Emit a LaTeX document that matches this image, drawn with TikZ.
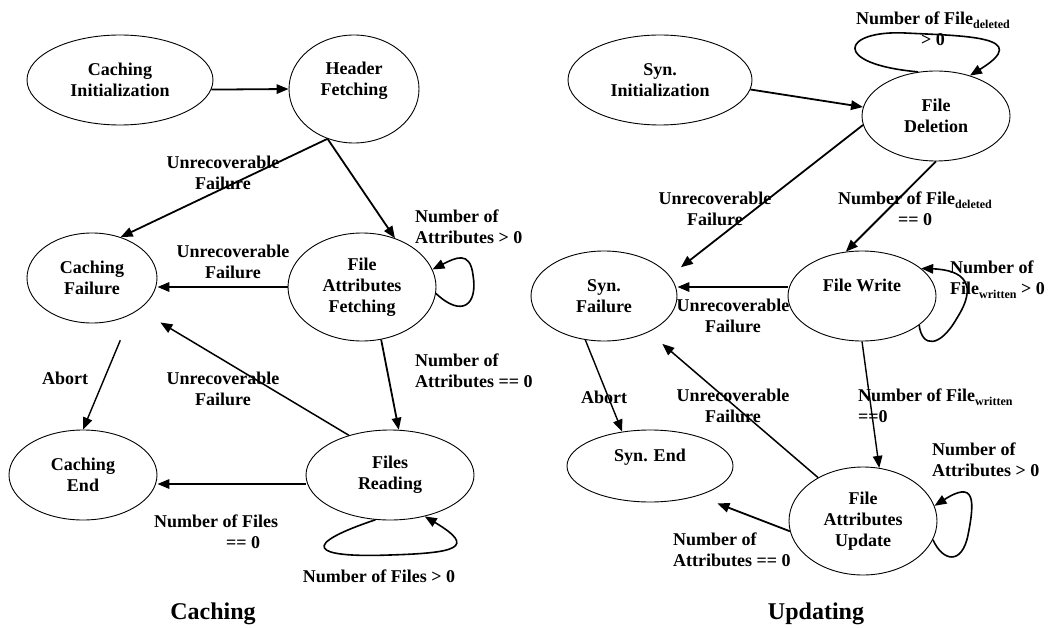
\documentclass[tikz,border=0pt]{standalone}
\usepackage{fontspec}
\setmainfont{Liberation Serif}
\usetikzlibrary{shapes.geometric, arrows.meta, calc}
% lowered small subscript for counters such as File_deleted
\newcommand\lowsub[1]{\raisebox{-4pt}{\fontsize{12}{12}\selectfont #1}}

\begin{document}
\begin{tikzpicture}[x=1pt, y=-1pt,
  stnode/.style={draw, ellipse, line width=0.9pt, inner sep=0pt, align=center,
    font=\fontsize{18}{21}\selectfont\bfseries},
  lbl/.style={inner sep=0pt, align=center, font=\fontsize{18}{21}\selectfont\bfseries},
  lbll/.style={lbl, align=left, anchor=west},
  trans/.style={line width=1.8pt, -{Triangle[length=12pt,width=9.5pt]}},
  loopline/.style={line width=1.6pt, -{Triangle[length=12pt,width=9.5pt]}},
  ttl/.style={inner sep=0pt, font=\fontsize{24}{28}\selectfont\bfseries}]
\useasboundingbox (0,0) rectangle (1048,628);

% ---------------- Caching ----------------
\node[stnode, minimum width=186, minimum height=90] (ci)  at (120,80)  {Caching\\Initialization};
\node[stnode, minimum width=130, minimum height=108] (hdr) at (354,89) {Header\\Fetching\\~};
\node[stnode, minimum width=130, minimum height=90] (cf)  at (92,278)  {Caching\\Failure};
\node[stnode, minimum width=148, minimum height=108] (fa) at (362,287) {File\\Attributes\\Fetching};
\node[stnode, minimum width=148, minimum height=90] (ce)  at (83,475)  {Caching\\End};
\node[stnode, minimum width=168, minimum height=90] (fr)  at (390,475) {Files\\Reading};

\draw[trans] (ci.-6) -- (hdr.west);
\draw[trans] (hdr.242) -- (cf.55);
\draw[trans] (hdr.242) -- (fa.56);
\draw[trans] (fa.west) -- (fa.west -| cf.east);
\draw[trans] (fa.-70) -- (fr.79);
\draw[trans, line width=1.4pt, shorten <=28pt] (cf.-43) -- (ce.north);
\draw[trans, line width=1.5pt, shorten >=25pt] (fr.136) -- (cf.-34.5);
\draw[trans] ($(fr.west)+(0,9)$) -- ($(ce.east)+(0,9)$);
% self loops
\draw[loopline] (fa.-5) .. controls (462,318) and (478,305) .. (473,275)
  .. controls (470,250) and (455,258) .. (fa.14);
\draw[loopline] (fr.-108) .. controls (300,545) and (310,558) .. (390,555)
  .. controls (455,553) and (478,548) .. (fr.-50);

\node[lbl] (l1) at (223,173) {Unrecoverable\\Failure};
\node[lbl] (l2) at (233,262) {Unrecoverable\\Failure};
\node[lbll] (l3) at (415,227) {Number of\\Attributes > 0};
\node[lbll] (l4) at (415,371) {Number of\\Attributes == 0};
\node[lbl] (l5) at (65,378) {Abort};
\node[lbl] (l6) at (223,389) {Unrecoverable\\Failure};
\node[lbll] (l7) at (154,532) {Number of Files\\\hspace*{72pt}== 0};
\node[lbl] (l8) at (379,576) {Number of Files > 0};
\node[ttl] (t1) at (213,614) {Caching};

% ---------------- Updating ----------------
\node[stnode, minimum width=184, minimum height=90] (si)  at (660,80)  {Syn.\\Initialization};
\node[stnode, minimum width=148, minimum height=90] (fd)  at (936,116) {File\\Deletion};
\node[stnode, minimum width=146, minimum height=90] (sf)  at (604,296) {Syn.\\Failure};
\node[stnode, minimum width=148, minimum height=90] (fw)  at (862,296) {File Write\\~};
\node[stnode, minimum width=166, minimum height=72] (se)  at (650,466) {Syn. End\\~};
\node[stnode, minimum width=148, minimum height=108] (fau) at (863,521) {File\\Attributes\\Update};

\draw[trans] (si.-6) -- (fd.173);
\draw[trans, shorten >=14pt] (fd.187) -- (sf.17);
\draw[trans] (fd.south) -- (fw.110);
\draw[trans] ($(fw.west)+(0,-9)$) -- ($(sf.east)+(0,-9)$);
\draw[trans, line width=1.4pt] (fw.south) -- (fau.73);
\draw[trans, line width=1.4pt] (sf.-113) -- (se.129);
\draw[trans, line width=1.5pt, shorten >=18pt] (fau.136) -- (sf.-39);
\draw[trans, shorten >=21pt] (fau.188.6) -- (se.-32);
% self loops
\draw[loopline] (fd.112) .. controls (830,64) and (842,30) .. (905,33)
  .. controls (965,36) and (1034,36) .. (fd.50);
\draw[loopline] (fw.-27) .. controls (922,348) and (940,348) .. (957,318)
  .. controls (978,285) and (965,270) .. (fw.25);
\draw[loopline] (fau.-15) .. controls (943,562) and (962,565) .. (968,535)
  .. controls (975,500) and (975,480) .. (fau.12);

\node[lbl] (r1) at (933,29) {Number of File\lowsub{deleted}\\> 0};
\node[lbl] (r2) at (715,209) {Unrecoverable\\Failure};
\node[lbl] (r3) at (915,209) {Number of File\lowsub{deleted}\\== 0};
\node[lbll] (r4) at (950,280) {Number of\\File\lowsub{written} > 0};
\node[lbl] (r5) at (733,316) {Unrecoverable\\Failure};
\node[lbl] (r6) at (604,397) {Abort};
\node[lbl] (r7) at (733,406) {Unrecoverable\\Failure};
\node[lbll] (r8) at (858,406) {Number of File\lowsub{written}\\==0};
\node[lbll] (r9) at (932,460) {Number of\\Attributes > 0};
\node[lbll] (r10) at (673,550) {Number of\\Attributes == 0};
\node[ttl] (t2) at (816,614) {Updating};
\end{tikzpicture}
\end{document}
